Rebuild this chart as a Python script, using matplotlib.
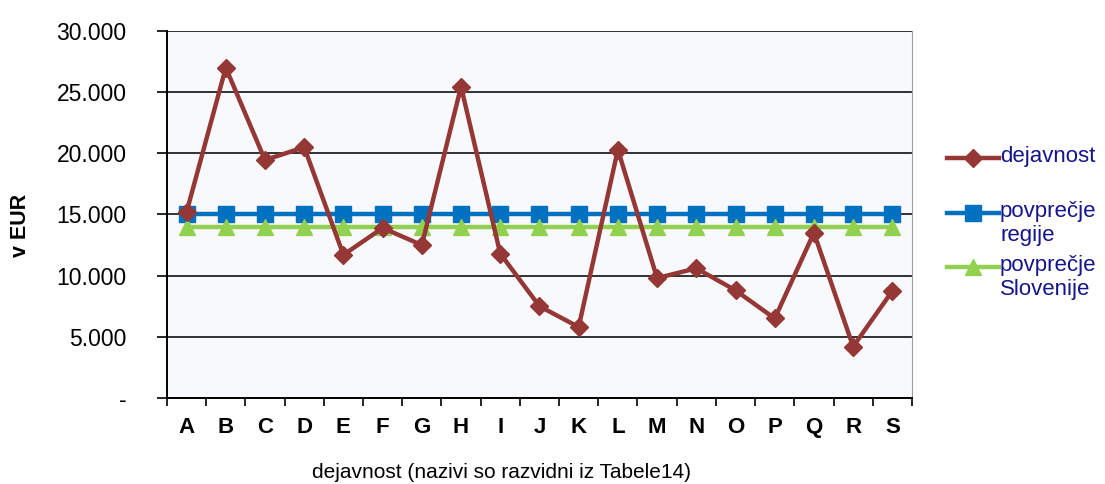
import numpy as np
import matplotlib.pyplot as plt
from matplotlib.lines import Line2D
from matplotlib.ticker import FuncFormatter

plt.rcParams['font.family'] = ['Liberation Sans', 'DejaVu Sans']

kategorije = list('ABCDEFGHIJKLMNOPQRS')
dejavnost = [15200, 27000, 19450, 20500, 11700, 13900, 12500, 25450, 11800, 7500,
             5800, 20300, 9800, 10600, 8800, 6500, 13500, 4200, 8750]
povp_regije = [15000] * 19
povp_slovenije = [14000] * 19

c_dej = '#953735'
c_reg = '#0070C0'
c_slo = '#92D050'
c_txt = '#14148C'

fig = plt.figure(figsize=(11.05, 4.84), dpi=100)
ax = fig.add_axes([0.1511, 0.1777, 0.6742, 0.7583])
ax.set_facecolor('#F8F9FC')

x = np.arange(len(kategorije))
ax.plot(x, dejavnost, color=c_dej, lw=3.2, marker='D', ms=9.5, zorder=5)
ax.plot(x, povp_regije, color=c_reg, lw=3.2, marker='s', ms=11, zorder=3)
ax.plot(x, povp_slovenije, color=c_slo, lw=3.2, marker='^', ms=11, zorder=4)

ax.set_xlim(-0.5, len(kategorije) - 0.5)
ax.set_ylim(0, 30000)
ax.set_yticks(np.arange(0, 30001, 5000))
ax.yaxis.set_major_formatter(FuncFormatter(
    lambda v, p: '-' if v == 0 else '{:,.0f}'.format(v).replace(',', '.')))
ax.grid(axis='y', color='#222222', lw=1.3)
ax.set_axisbelow(True)

ax.set_xticks(x)
ax.set_xticklabels(kategorije, fontweight='bold', fontsize=16)
ax.set_xticks(np.arange(-0.5, len(kategorije)), minor=True)
ax.tick_params(axis='x', which='major', length=0, pad=14)
ax.tick_params(axis='x', which='minor', length=6, width=1.2, direction='out')
ax.tick_params(axis='y', length=7, width=1.2, labelsize=16.5, pad=22)

ax.spines['top'].set_visible(False)
ax.spines['right'].set_color('#A0A0A0')
ax.spines['left'].set_linewidth(1.4)
ax.spines['bottom'].set_linewidth(1.4)

ax.set_xlabel('dejavnost (nazivi so razvidni iz Tabele14)', fontsize=15)
ax.xaxis.set_label_coords(0.449, -0.178)
ax.set_ylabel('v EUR', fontsize=15.5, fontweight='bold')
ax.yaxis.set_label_coords(-0.182, 0.47)

# legenda
leg = [(c_dej, 'D', 9.5, 'dejavnost', 158),
       (c_reg, 's', 11, 'povprečje\nregije', 213),
       (c_slo, '^', 11, 'povprečje\nSlovenije', 267)]
for col, mk, ms, lab, ypx in leg:
    yf = 1 - ypx / 484
    fig.add_artist(Line2D([947 / 1105, 973 / 1105, 999 / 1105], [yf, yf, yf],
                          color=col, lw=3.2, marker=mk, ms=ms, markevery=[1],
                          transform=fig.transFigure))
    fig.text(1000 / 1105, yf + 12 / 484, lab, color=c_txt, fontsize=16,
             va='top', ha='left', linespacing=1.2)

fig.savefig('out.png', dpi=100)
